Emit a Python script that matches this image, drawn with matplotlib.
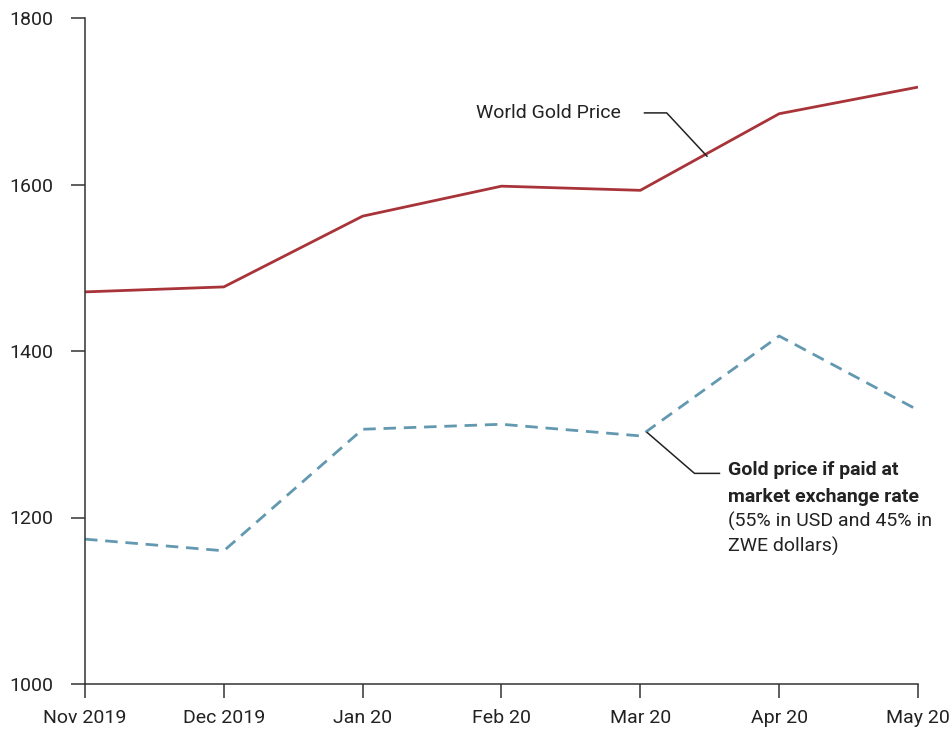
import matplotlib.pyplot as plt

plt.rcParams['font.family'] = ['Roboto', 'DejaVu Sans']

### data
months = ['Nov 2019', 'Dec 2019', 'Jan 20', 'Feb 20', 'Mar 20', 'Apr 20', 'May 20']
world_price = [1471, 1477, 1562, 1598, 1593, 1685, 1717]
market_price = [1174, 1160, 1306, 1312, 1298, 1418, 1329]

red = '#a8343a'
blue = '#6299b0'
ink = '#222222'

fig = plt.figure(figsize=(9.52, 7.36), dpi=100)
ax = fig.add_axes([85/952, 52/736, (918-85)/952, (684-18)/736])

x = list(range(len(months)))
ax.plot(x, world_price, color=red, lw=2.0, solid_capstyle='butt')
ax.plot(x, market_price, color=blue, lw=2.0, dashes=(4.5, 2.8))

ax.set_xlim(0, len(months)-1)
ax.set_ylim(1000, 1800)
ax.set_xticks(x)
ax.set_xticklabels(months)
ax.set_yticks([1000, 1200, 1400, 1600, 1800])

for s in ['top', 'right']:
    ax.spines[s].set_visible(False)
for s in ['left', 'bottom']:
    ax.spines[s].set_color('#333333')
    ax.spines[s].set_linewidth(1.1)
ax.tick_params(axis='x', length=10, width=1.1, color='#333333', pad=8,
               labelsize=14, labelcolor=ink)
ax.tick_params(axis='y', length=10, width=1.1, color='#333333', pad=13,
               labelsize=14, labelcolor=ink)

### annotations
ax.plot([4.03, 4.19, 4.48], [1686, 1686, 1634], color=ink, lw=1.1)
ax.text(3.86, 1686, 'World Gold Price', ha='right', va='center',
        fontsize=14, color=ink)

ax.plot([4.05, 4.39, 4.57], [1302, 1253, 1253], color=ink, lw=1.1)
note_lines = ['Gold price if paid at', 'market exchange rate',
              '(55% in USD and 45% in', 'ZWE dollars)']
note_y = [1257, 1225, 1195, 1165]
note_bold = [True, True, False, False]
for txt, yy, b in zip(note_lines, note_y, note_bold):
    ax.text(4.63, yy, txt, ha='left', va='center', fontsize=14, color=ink,
            fontweight='bold' if b else 'normal')

fig.savefig('out.png', dpi=100)
